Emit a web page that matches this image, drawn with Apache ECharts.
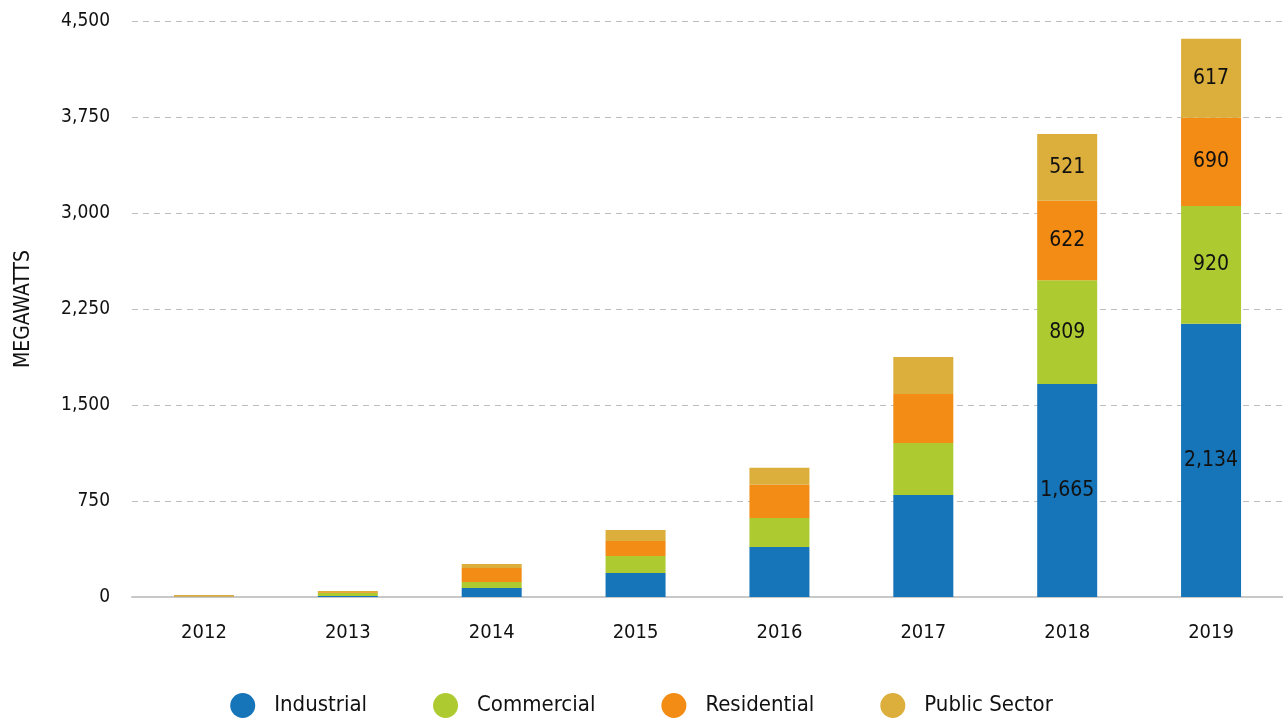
<!DOCTYPE html>
<html>
<head>
<meta charset="utf-8">
<script src="https://cdn.jsdelivr.net/npm/echarts@6/dist/echarts.min.js"></script>
<style>
  html, body { margin: 0; padding: 0; background: #fff; }
  #chart { width: 1283px; height: 719px; }
</style>
</head>
<body>
<div id="chart"></div>
<script>
// Installed capacity by sector, megawatts
const years = ['2012', '2013', '2014', '2015', '2016', '2017', '2018', '2019'];
const industrial  = [1, 8, 70, 188, 391, 797, 1665, 2134];
const commercial  = [1, 25, 47, 133, 227, 406, 809, 920];
const residential = [2, 6, 109, 117, 258, 383, 622, 690];
const publicSector = [12, 8, 31, 86, 133, 289, 521, 617];
// Years whose segments carry value labels
const labeledYears = ['2018', '2019'];

const FONT = '"DejaVu Sans Condensed", "Roboto", sans-serif';
const fmt = v => v.toLocaleString('en-US');

function makeSeries(name, values, color) {
  return {
    name: name,
    type: 'bar',
    stack: 'total',
    barWidth: 60,
    itemStyle: { color: color },
    data: values.map((v, i) => ({
      value: v,
      label: {
        show: labeledYears.includes(years[i]),
        position: 'inside',
        color: '#111',
        fontFamily: FONT,
        fontSize: 21,
        formatter: p => fmt(p.value)
      }
    }))
  };
}

const chart = echarts.init(document.getElementById('chart'), null, { renderer: 'canvas' });
chart.setOption({
  animation: false,
  textStyle: { fontFamily: FONT },
  grid: { left: 132, top: 21, width: 1152, bottom: 122, containLabel: false },
  legend: {
    top: 688,
    left: 'center',
    icon: 'circle',
    itemWidth: 25,
    itemHeight: 25,
    itemGap: 66,
    textStyle: { fontFamily: FONT, fontSize: 22, color: '#111', padding: [0, 0, 0, 14] },
    data: ['Industrial', 'Commercial', 'Residential', 'Public Sector']
  },
  xAxis: {
    type: 'category',
    data: years,
    axisTick: { show: false },
    axisLine: { lineStyle: { color: '#c8c8c8', width: 2 } },
    axisLabel: { color: '#111', fontFamily: FONT, fontSize: 20, margin: 26 }
  },
  yAxis: {
    type: 'value',
    min: 0,
    max: 4500,
    interval: 750,
    name: 'MEGAWATTS',
    nameLocation: 'middle',
    nameGap: 98,
    nameTextStyle: { color: '#111', fontFamily: FONT, fontSize: 21 },
    axisLine: { show: false },
    axisTick: { show: false },
    axisLabel: { color: '#111', fontFamily: FONT, fontSize: 19, margin: 22, formatter: v => fmt(v) },
    splitLine: { lineStyle: { color: '#bdbdbd', type: [6, 5], width: 1 } }
  },
  series: [
    makeSeries('Industrial', industrial, '#1674b9'),
    makeSeries('Commercial', commercial, '#adcb31'),
    makeSeries('Residential', residential, '#f28c14'),
    makeSeries('Public Sector', publicSector, '#dcae3b')
  ]
});
</script>
</body>
</html>
